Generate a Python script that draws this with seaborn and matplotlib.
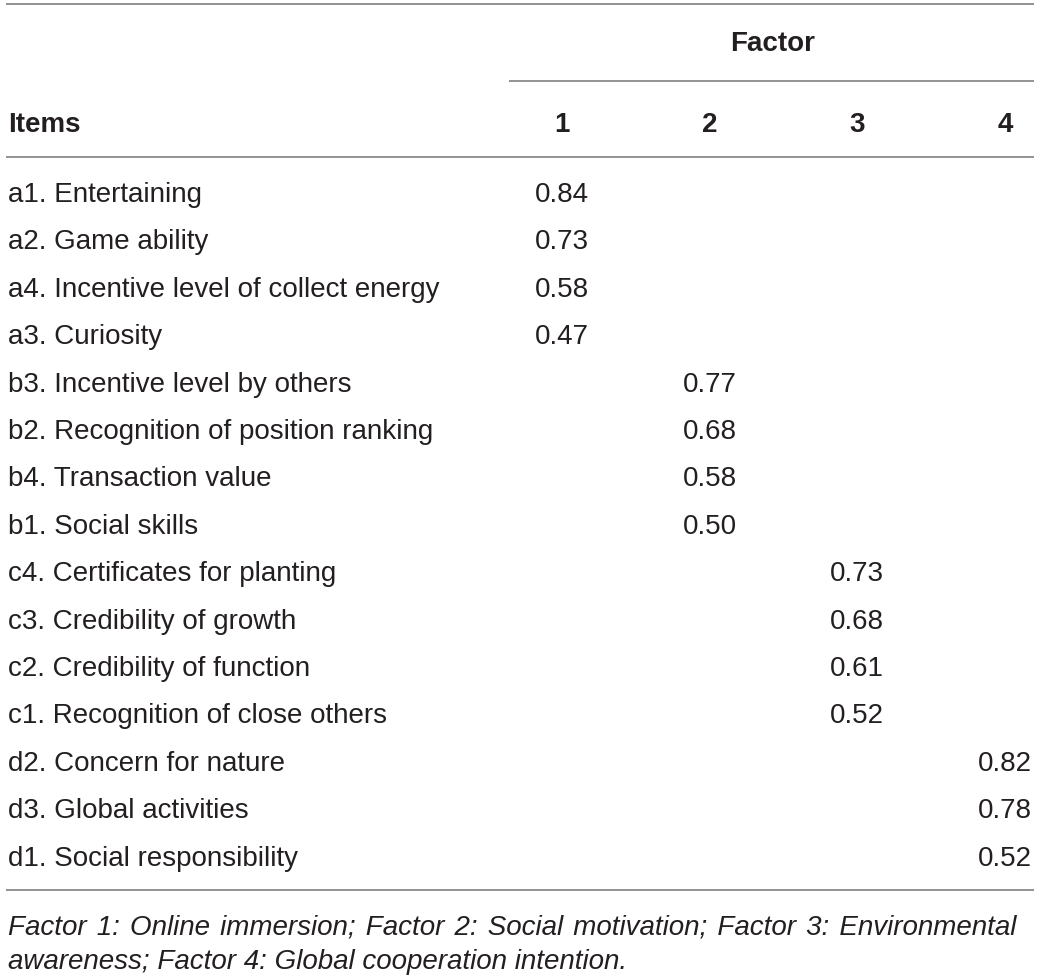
import numpy as np
import pandas as pd
import matplotlib.pyplot as plt
import seaborn as sns

# table content
items = ["a1. Entertaining", "a2. Game ability", "a4. Incentive level of collect energy",
         "a3. Curiosity", "b3. Incentive level by others", "b2. Recognition of position ranking",
         "b4. Transaction value", "b1. Social skills", "c4. Certificates for planting",
         "c3. Credibility of growth", "c2. Credibility of function", "c1. Recognition of close others",
         "d2. Concern for nature", "d3. Global activities", "d1. Social responsibility"]
factor = [1, 1, 1, 1, 2, 2, 2, 2, 3, 3, 3, 3, 4, 4, 4]
loading = [0.84, 0.73, 0.58, 0.47, 0.77, 0.68, 0.58, 0.50,
           0.73, 0.68, 0.61, 0.52, 0.82, 0.78, 0.52]
factor_labels = ["1", "2", "3", "4"]
footnote = ["Factor 1: Online immersion; Factor 2: Social motivation; Factor 3: Environmental",
            "awareness; Factor 4: Global cooperation intention."]

df = pd.DataFrame({"item": items, "factor": factor, "loading": loading})

sns.set_theme(style="white")
plt.rcParams['font.family'] = ['Liberation Sans', 'DejaVu Sans']

txt = "#231f20"
rule = "#8a8a8a"
fs = 20

fig = plt.figure(figsize=(10.4, 9.78), dpi=100)
ax = fig.add_axes([0, 0, 1, 1])
ax.set_xlim(0, 1040)
ax.set_ylim(978, 0)
ax.axis('off')

col_x = {1: 562, 2: 710, 3: 857, 4: 1005}
row0, step = 195, 47.4

# rules
ax.hlines(5, 6, 1034, color=rule, lw=1.3)
ax.hlines(82, 509, 1034, color=rule, lw=1.3)
ax.hlines(158, 6, 1034, color=rule, lw=1.3)
ax.hlines(891, 6, 1034, color=rule, lw=1.3)

# header
ax.text(773, 44, "Factor", ha='center', va='center', fontsize=fs, fontweight='bold', color=txt)
ax.text(8, 125, "Items", ha='left', va='center', fontsize=fs, fontweight='bold', color=txt)
for i, lab in enumerate(factor_labels):
    ax.text(col_x[i + 1], 125, lab, ha='center', va='center', fontsize=fs, fontweight='bold', color=txt)

# body
for i, r in df.iterrows():
    y = row0 + i * step
    ax.text(8, y, r["item"], ha='left', va='center', fontsize=fs, color=txt)
    ax.text(col_x[r["factor"]], y, f"{r['loading']:.2f}", ha='center', va='center', fontsize=fs, color=txt)

# footnote, first line stretched towards the table width with hair spaces
fig.canvas.draw()
renderer = fig.canvas.get_renderer()


def text_width(s):
    t = ax.text(0, 0, s, fontsize=fs, style='italic')
    w = t.get_window_extent(renderer).width
    t.remove()
    return w


target = 1033 - 8
n_gaps = footnote[0].count(" ")
line1 = footnote[0]
for k in range(1, 30):
    cand = footnote[0].replace(" ", " " + "\u200a" * k)
    if text_width(cand) > target:
        break
    line1 = cand
ax.text(8, 934, line1, ha='left', va='baseline', fontsize=fs, style='italic', color=txt)
ax.text(8, 969, footnote[1], ha='left', va='baseline', fontsize=fs, style='italic', color=txt)

fig.savefig("out.png", dpi=100)
